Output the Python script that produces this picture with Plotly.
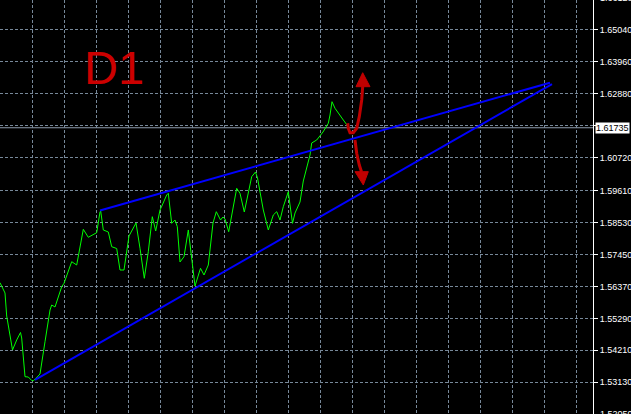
import plotly.graph_objects as go

# ---- data ----
bar_pos = [0, 3.3, 5, 6.7, 8.3, 12.5, 16.7, 20.5, 21.7, 23.3, 25, 28.3, 31.7, 33.3, 35, 40,
           43.3, 45, 50, 51.7, 55, 58.3, 61.7, 64, 68.3, 71.7, 76.7, 83.3, 88.3, 93, 96.7,
           100, 100.7, 103.3, 108.3, 111.7, 116.7, 120, 124, 129, 136, 140, 144.3, 148.3,
           152.3, 155.7, 160, 162.3, 166.7, 168.3, 171.7, 175, 177.3, 180, 184, 188.3,
           191.7, 195, 200.5, 204, 208.3, 213, 216.3, 220.5, 223, 225, 228.7, 236.7, 240,
           244.3, 251.7, 255.5, 257.5, 260, 263.3, 268.3, 273.3, 276.7, 280, 283.3, 286.7,
           288.3, 290, 292.5, 295, 300, 303.3, 306.7, 310, 311.7, 316.7, 323, 328.3, 330,
           332, 335, 338.3, 343.3, 347, 349]
close = [1.56497, 1.56250, 1.56149, 1.55371, 1.55033, 1.54222, 1.54560, 1.54813, 1.54627,
         1.53951, 1.53319, 1.53309, 1.53191, 1.53184, 1.53231, 1.53410, 1.54222, 1.54502,
         1.55574, 1.55743, 1.55676, 1.56024, 1.56362, 1.56477, 1.56926, 1.57207, 1.57095,
         1.58302, 1.58032, 1.58110, 1.58187, 1.58887, 1.58921, 1.58279, 1.58211, 1.57714,
         1.57653, 1.56926, 1.56926, 1.58076, 1.58515, 1.57660, 1.56646, 1.57545, 1.58728,
         1.58245, 1.58955, 1.59124, 1.59462, 1.59519, 1.58505, 1.58617, 1.58390, 1.57197,
         1.57376, 1.58279, 1.57332, 1.56385, 1.56984, 1.56757, 1.57095, 1.58515, 1.58897,
         1.58617, 1.58718, 1.58651, 1.58221, 1.59688, 1.59519, 1.58887, 1.60081, 1.60239,
         1.60037, 1.59519, 1.58955, 1.58279, 1.58786, 1.58897, 1.58617, 1.59066, 1.59404,
         1.59573, 1.59124, 1.58505, 1.58853, 1.59225, 1.59935, 1.60375, 1.60814, 1.61220,
         1.61321, 1.61592, 1.61886, 1.62166, 1.62616, 1.62393, 1.62224, 1.61997, 1.61828,
         1.61735]

lower_trend_x = [35, 552]
lower_trend_y = [1.53208, 1.63214]
upper_trend_x = [100, 550]
upper_trend_y = [1.58938, 1.63258]

current_price = 1.61735
price_ticks = [1.53130, 1.54210, 1.55290, 1.56370, 1.57450, 1.58530, 1.59610,
               1.60720, 1.61800, 1.62880, 1.63960, 1.65040]
price_labels = ["1.53130", "1.54210", "1.55290", "1.56370", "1.57450", "1.58530", "1.59610",
                "1.60720", "", "1.62880", "1.63960", "1.65040"]
edge_labels = ["1.66120", "1.52050"]
timeframe = "D1"

GRID = "#778899"
RED = "#c00000"
FONT = "Liberation Sans, Arial"

fig = go.Figure()
fig.add_trace(go.Scatter(x=bar_pos, y=close, mode="lines",
                         line=dict(color="#00ff00", width=1), hoverinfo="skip"))
fig.add_trace(go.Scatter(x=lower_trend_x, y=lower_trend_y, mode="lines",
                         line=dict(color="#0000ff", width=2), hoverinfo="skip"))
fig.add_trace(go.Scatter(x=upper_trend_x, y=upper_trend_y, mode="lines",
                         line=dict(color="#0000ff", width=2), hoverinfo="skip"))

shapes = []
# current price line
shapes.append(dict(type="line", xref="paper", x0=0, x1=1, yref="y",
                   y0=current_price, y1=current_price,
                   line=dict(color="#8e9cae", width=1), layer="below"))
# red curved arrows (decoration)
up_shaft = "M 347.7,1.61886 L 348.3,1.61717 L 350,1.61568 L 353.3,1.61568 L 356.7,1.61717 L 359.3,1.62109 L 361.7,1.62674 L 362.7,1.63123"
up_head = "M 356,1.63123 L 370,1.63123 L 362.7,1.63596 Z"
dn_shaft = "M 355,1.61321 L 356.7,1.60872 L 359.3,1.60476 L 361.5,1.60250"
dn_head = "M 355,1.60250 L 368.3,1.60250 L 363.3,1.59800 Z"
for p in (up_shaft, dn_shaft):
    shapes.append(dict(type="path", xref="x", yref="y", path=p,
                       line=dict(color=RED, width=3)))
for p in (up_head, dn_head):
    shapes.append(dict(type="path", xref="x", yref="y", path=p,
                       fillcolor=RED, line=dict(color=RED, width=1)))

annotations = [
    dict(text=timeframe, x=114, y=1.63762, xref="x", yref="y", showarrow=False,
         font=dict(family=FONT, size=47, color="#cc0000"),
         xanchor="center", yanchor="middle"),
    dict(text="1.61735", x=1, xref="paper", xanchor="left", xshift=2,
         y=current_price, yref="y", yanchor="middle", showarrow=False,
         bgcolor="#ffffff", borderpad=0,
         font=dict(family=FONT, size=9, color="#000000")),
    dict(text=edge_labels[0], x=1, xref="paper", xanchor="left", xshift=5,
         y=1 + 2 / 414, yref="paper", yanchor="middle", showarrow=False,
         font=dict(family=FONT, size=9, color="#ffffff")),
    dict(text=edge_labels[1], x=1, xref="paper", xanchor="left", xshift=5,
         y=-0.3 / 414, yref="paper", yanchor="middle", showarrow=False,
         font=dict(family=FONT, size=9, color="#ffffff")),
]

fig.update_layout(
    width=631, height=414,
    margin=dict(l=0, r=38, t=0, b=0, pad=0),
    paper_bgcolor="#000000", plot_bgcolor="#000000",
    showlegend=False,
    shapes=shapes, annotations=annotations,
    xaxis=dict(range=[0, 593], tick0=0.3, dtick=32.02, showgrid=True,
               gridcolor=GRID, griddash="3px,2px", gridwidth=1,
               showticklabels=False, ticks="", zeroline=False, showline=False,
               fixedrange=True, automargin=False),
    yaxis=dict(side="right", range=[1.52058, 1.66054], tickmode="array",
               tickvals=price_ticks, ticktext=price_labels,
               tickfont=dict(family=FONT, size=9, color="#ffffff"),
               ticks="outside", ticklen=4, tickcolor="#ffffff", tickwidth=1,
               showline=True, linecolor="#ffffff", linewidth=1,
               showgrid=True, gridcolor=GRID, griddash="3px,2px", gridwidth=1,
               zeroline=False, fixedrange=True, automargin=False),
)

fig.write_html("out.html", config={"displayModeBar": False},
               post_script="document.body.style.margin='0px';document.body.style.background='#000';")
